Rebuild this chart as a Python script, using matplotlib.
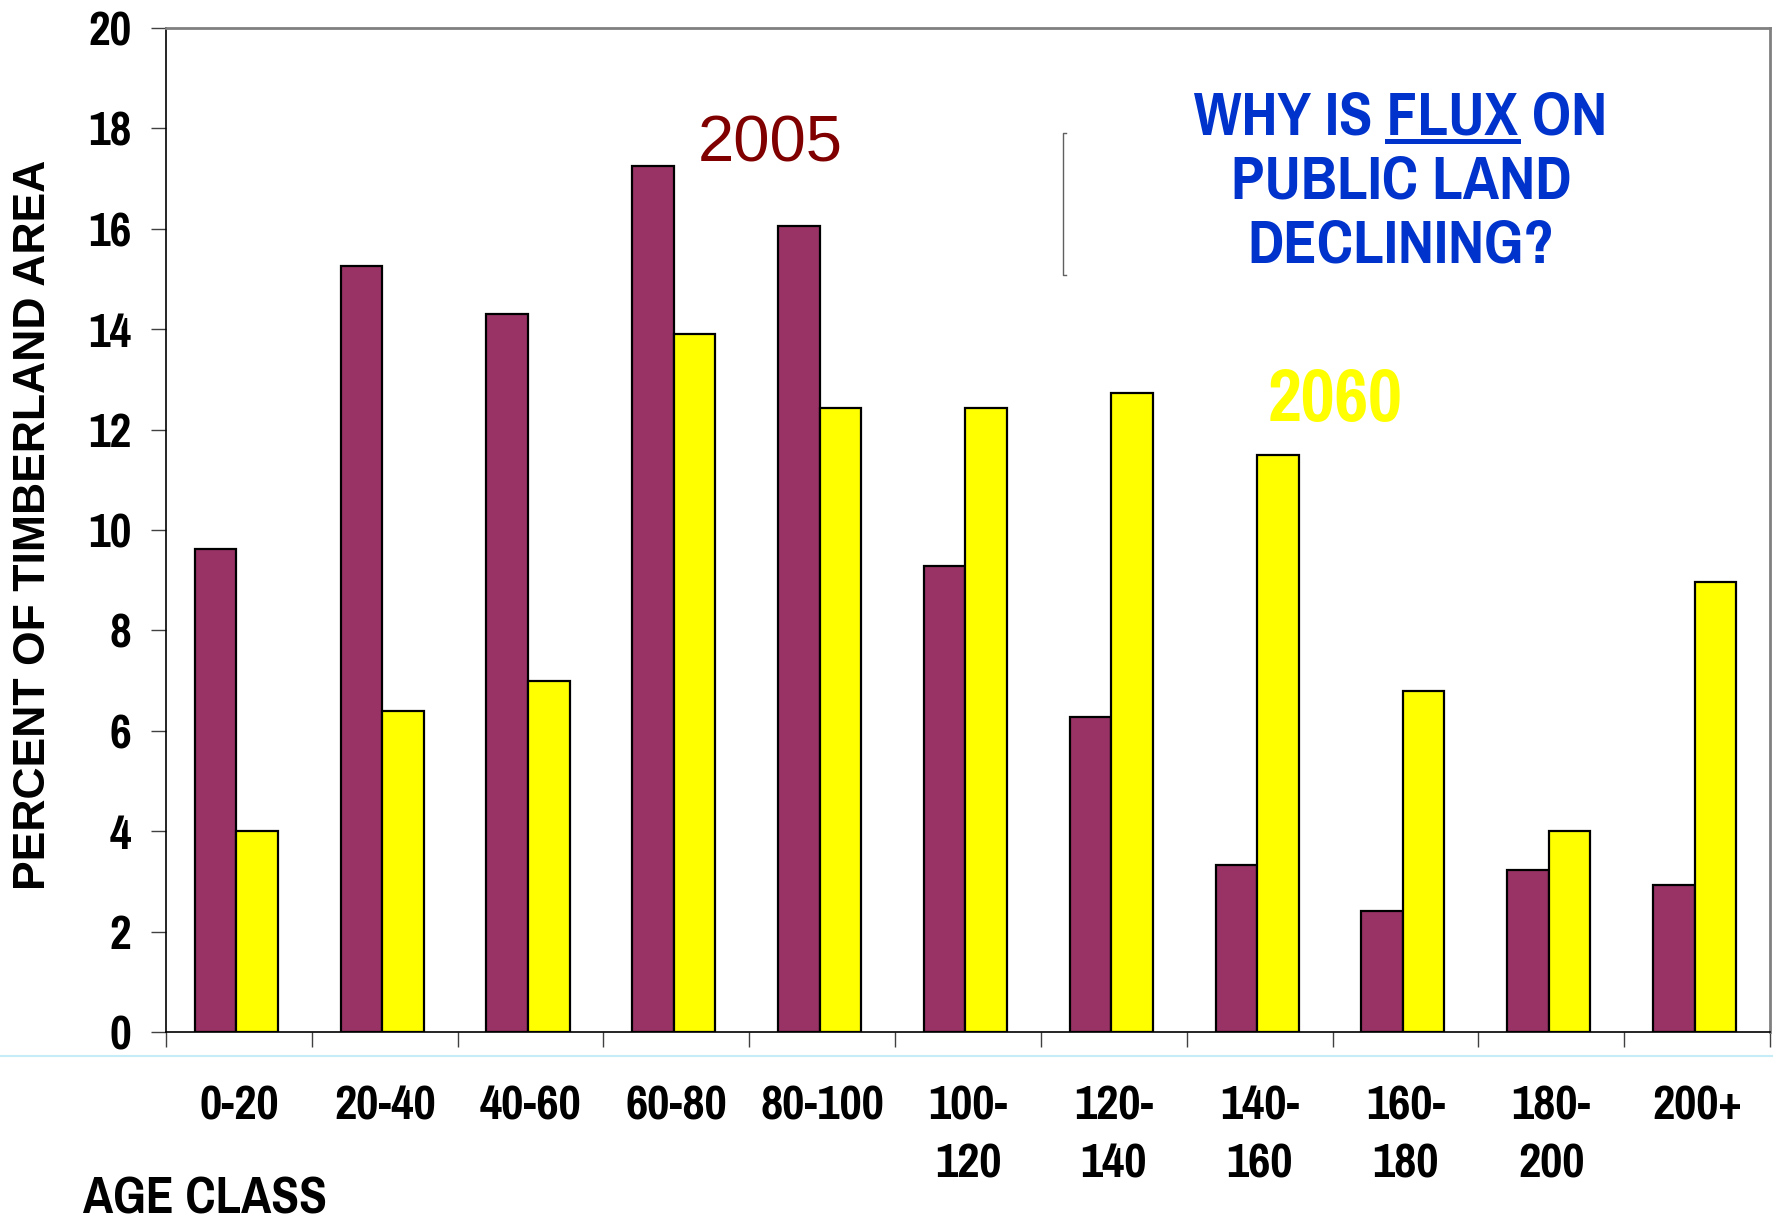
import matplotlib
matplotlib.use("Agg")
import matplotlib.pyplot as plt
from matplotlib import font_manager
from matplotlib.font_manager import FontProperties
from matplotlib.lines import Line2D
import numpy as np

# Share of timberland area by age class (percent)
age_classes = ["0-20", "20-40", "40-60", "60-80", "80-100", "100-\n120",
               "120-\n140", "140-\n160", "160-\n180", "180-\n200", "200+"]
pct_2005 = [9.62, 15.25, 14.3, 17.25, 16.06, 9.28, 6.28, 3.33, 2.41, 3.22, 2.93]
pct_2060 = [4.0, 6.4, 7.0, 13.9, 12.43, 12.43, 12.72, 11.5, 6.8, 4.0, 8.96]
y_ticks = [0, 2, 4, 6, 8, 10, 12, 14, 16, 18, 20]

W, H = 1773, 1219
C_2005 = "#993366"
C_2060 = "#FFFF00"
C_BLUE = "#0033CC"


def _weight(w):
    if isinstance(w, (int, float)):
        return w
    return font_manager.weight_dict.get(str(w), 400)


def narrow_bold_file():
    """Find a bold narrow sans-serif face file."""
    candidates = ["Liberation Sans Narrow", "Arial Narrow", "Pragati Narrow",
                  "PT Sans Narrow", "Roboto Condensed", "Arimo Narrow",
                  "Archivo Narrow"]
    for name in candidates:
        ents = [f for f in font_manager.fontManager.ttflist
                if f.name == name and "Italic" not in f.fname
                and "Oblique" not in f.fname]
        bold = [f for f in ents if 700 <= _weight(f.weight) < 800]
        if bold:
            return bold[0].fname
    return None


_nfile = narrow_bold_file()


def narrow(size):
    if _nfile:
        return FontProperties(fname=_nfile, size=size)
    return FontProperties(family="DejaVu Sans", stretch="condensed",
                          weight="bold", size=size)


def wide(size, bold=False):
    return FontProperties(family="Liberation Sans",
                          weight="bold" if bold else "normal", size=size)


fig = plt.figure(figsize=(W / 100, H / 100), dpi=100)
fig.patch.set_facecolor("white")


def fx(px):
    return px / W


def fy(py):
    return 1 - py / H


ax = fig.add_axes([fx(166), fy(1032), (1770 - 166) / W, (1032 - 28) / H])

x = np.arange(len(age_classes))
bw = 0.285
ax.bar(x - 0.16, pct_2005, bw, color=C_2005, edgecolor="black", linewidth=1.6, zorder=3)
ax.bar(x + 0.125, pct_2060, bw, color=C_2060, edgecolor="black", linewidth=1.6, zorder=3)

ax.set_xlim(-0.5, len(age_classes) - 0.5)
ax.set_ylim(0, 20)

# spines
for side in ("left", "bottom"):
    ax.spines[side].set_color("black")
    ax.spines[side].set_linewidth(1.2)
for side in ("top", "right"):
    ax.spines[side].set_color("#808080")
    ax.spines[side].set_linewidth(2)

# y axis
ax.set_yticks(y_ticks)
ax.set_yticklabels([str(v) for v in y_ticks], fontproperties=narrow(37))
ax.tick_params(axis="y", direction="out", length=11, width=1.0,
               color="#404040", pad=14)

# x axis: separators at group edges, labels at group centres
ax.set_xticks(np.arange(-0.5, len(age_classes), 1.0))
ax.set_xticklabels([])
ax.tick_params(axis="x", which="major", direction="out", length=11,
               width=1.0, color="#404040")
ax.set_xticks(x, minor=True)
ax.set_xticklabels(age_classes, minor=True, fontproperties=narrow(38),
                   linespacing=1.42)
ax.tick_params(axis="x", which="minor", length=0, pad=38)

# axis titles
fig.text(fx(34), fy(525), "PERCENT OF TIMBERLAND AREA", rotation=90,
         ha="center", va="center", fontproperties=wide(32, bold=True),
         color="black")
fig.text(fx(83), fy(1199), "AGE CLASS", ha="left", va="center",
         fontproperties=narrow(40), color="black")

# series labels
fig.text(fx(770), fy(145), "2005", ha="center", va="center",
         fontproperties=wide(47), color="#800000")
fig.text(fx(1335), fy(400), "2060", ha="center", va="center",
         fontproperties=narrow(58), color=C_2060)

# question text
title_kw = dict(ha="center", va="center", fontproperties=narrow(48), color=C_BLUE)
t1 = fig.text(fx(1401), fy(118), "WHY IS FLUX ON", **title_kw)
fig.text(fx(1401), fy(182), "PUBLIC LAND", **title_kw)
fig.text(fx(1401), fy(246), "DECLINING?", **title_kw)

# underline under "FLUX"
fig.canvas.draw()
renderer = fig.canvas.get_renderer()
bb1 = t1.get_window_extent(renderer)
probe_a = fig.text(0, 0, "WHY IS FLUX", **title_kw)
probe_b = fig.text(0, 0, "FLUX", **title_kw)
wa = probe_a.get_window_extent(renderer).width
wb = probe_b.get_window_extent(renderer).width
probe_a.remove()
probe_b.remove()
u_end = bb1.x0 + wa
u_start = u_end - wb
fig.add_artist(Line2D([u_start / W, u_end / W], [fy(141), fy(141)],
                      transform=fig.transFigure, color=C_BLUE, linewidth=3.6))

# thin bracket line beside the question
bx = 1063
fig.add_artist(Line2D([fx(bx + 3), fx(bx), fx(bx), fx(bx + 3)],
                      [fy(133), fy(133), fy(275), fy(275)],
                      transform=fig.transFigure, color="#606060", linewidth=1.0))

# light rule under the plot area
fig.add_artist(Line2D([0, 1], [fy(1056), fy(1056)], transform=fig.transFigure,
                      color="#c6ecf7", linewidth=1.5))

fig.savefig("out.png", dpi=100, facecolor="white")
